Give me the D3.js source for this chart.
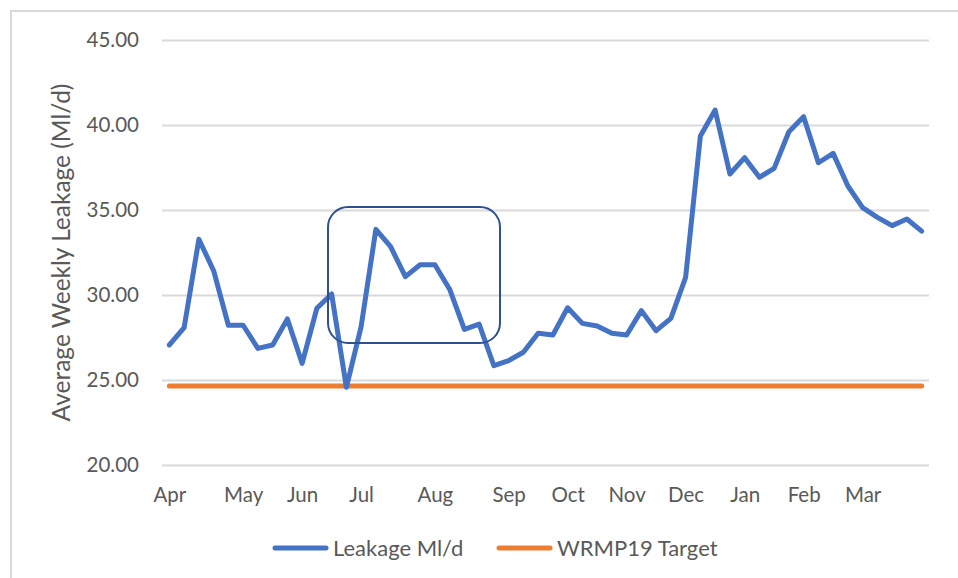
<!DOCTYPE html>
<html>
<head>
<meta charset="utf-8">
<script src="https://cdn.jsdelivr.net/npm/d3@7"></script>
<style>
  body { margin: 0; background: #fff; }
  svg text { font-family: Lato, "Open Sans", sans-serif; fill: #595959; }
</style>
</head>
<body>
<svg id="chart" width="958" height="578"></svg>
<script>
// Month label shown under the first week of each month
const months = ["Apr", "May", "Jun", "Jul", "Aug", "Sep", "Oct", "Nov", "Dec", "Jan", "Feb", "Mar"];
const weeksPerMonth = [5, 4, 4, 5, 5, 4, 4, 4, 4, 4, 4, 5];

// Weekly leakage readings (Ml/d)
const leakage = [
    27.06, 28.08, 33.28, 31.43, 28.22, 28.22, 26.86, 27.06, 28.59, 25.98,
    29.22, 30.06, 24.57, 28.14, 33.86, 32.84, 31.08, 31.78, 31.78, 30.34,
    27.98, 28.29, 25.84, 26.14, 26.63, 27.75, 27.65, 29.25, 28.33, 28.18,
    27.75, 27.65, 29.08, 27.90, 28.63, 31.04, 39.35, 40.88, 37.12, 38.08,
    36.92, 37.45, 39.60, 40.49, 37.78, 38.33, 36.41, 35.14, 34.57, 34.08,
    34.47, 33.76
];
const target = 24.65;
const yTicks = [20, 25, 30, 35, 40, 45];

// Build week categories and which ones carry a month label
const weeks = [];
const weekLabels = {};
months.forEach(function (m, mi) {
    for (let w = 0; w < weeksPerMonth[mi]; w++) {
        const key = m + "-" + w;
        if (w === 0) weekLabels[key] = m;
        weeks.push(key);
    }
});

const plot = {left: 162, right: 929, top: 40, bottom: 465};

const svg = d3.select("#chart");

// Chart area border (runs off the page at right and bottom)
svg.append("rect")
    .attr("x", 11)
    .attr("y", 11)
    .attr("width", 1000)
    .attr("height", 1000)
    .attr("fill", "none")
    .attr("stroke", "#d9d9d9")
    .attr("stroke-width", 2);

const x = d3.scalePoint()
    .domain(weeks)
    .range([plot.left, plot.right])
    .padding(0.5);

const y = d3.scaleLinear()
    .domain([20, 45])
    .range([plot.bottom, plot.top]);

// Gridlines and y labels
const yAxis = svg.append("g")
    .attr("transform", "translate(" + plot.left + ",0)")
    .call(d3.axisLeft(y)
        .tickValues(yTicks)
        .tickFormat(d3.format(".2f"))
        .tickSize(-(plot.right - plot.left))
        .tickPadding(23));
yAxis.select(".domain").remove();
yAxis.selectAll(".tick line")
    .attr("stroke", "#d9d9d9")
    .attr("stroke-width", 2);
yAxis.selectAll(".tick text")
    .attr("font-size", 20.5)
    .style("font-family", "Lato, sans-serif")
    .attr("fill", "#595959");

// X axis month labels
const xAxis = svg.append("g")
    .attr("transform", "translate(0," + plot.bottom + ")")
    .call(d3.axisBottom(x)
        .tickValues(weeks.filter(function (k) { return weekLabels[k]; }))
        .tickFormat(function (k) { return weekLabels[k]; })
        .tickSize(0)
        .tickPadding(22));
xAxis.select(".domain").remove();
xAxis.selectAll(".tick text")
    .attr("font-size", 20.5)
    .style("font-family", "Lato, sans-serif")
    .attr("fill", "#595959");

// Axis title
svg.append("text")
    .attr("transform", "translate(70," + ((plot.top + plot.bottom) / 2) + ") rotate(-90)")
    .attr("text-anchor", "middle")
    .attr("font-size", 24.5)
    .text("Average Weekly Leakage (Ml/d)");

// Target line
svg.append("line")
    .attr("x1", x(weeks[0]))
    .attr("x2", x(weeks[weeks.length - 1]))
    .attr("y1", y(target))
    .attr("y2", y(target))
    .attr("stroke", "#ED7D31")
    .attr("stroke-width", 5)
    .attr("stroke-linecap", "round");

// Leakage line
const line = d3.line()
    .x(function (d, i) { return x(weeks[i]); })
    .y(function (d) { return y(d); });

svg.append("path")
    .datum(leakage)
    .attr("d", line)
    .attr("fill", "none")
    .attr("stroke", "#4472C4")
    .attr("stroke-width", 5)
    .attr("stroke-linejoin", "round")
    .attr("stroke-linecap", "round");

// Highlight box round the summer peak
svg.append("rect")
    .attr("x", 328)
    .attr("y", 207)
    .attr("width", 172)
    .attr("height", 136)
    .attr("rx", 20)
    .attr("fill", "none")
    .attr("stroke", "#2F528F")
    .attr("stroke-width", 2);

// Legend
const legendItems = [
    {label: "Leakage Ml/d", color: "#4472C4", x: 273},
    {label: "WRMP19 Target", color: "#ED7D31", x: 497}
];
const legend = svg.append("g");
legendItems.forEach(function (item) {
    legend.append("line")
        .attr("x1", item.x + 2)
        .attr("x2", item.x + 53)
        .attr("y1", 548)
        .attr("y2", 548)
        .attr("stroke", item.color)
        .attr("stroke-width", 5)
        .attr("stroke-linecap", "round");
    legend.append("text")
        .attr("x", item.x + 60)
        .attr("y", 556)
        .attr("font-size", 22)
        .text(item.label);
});
</script>
</body>
</html>
